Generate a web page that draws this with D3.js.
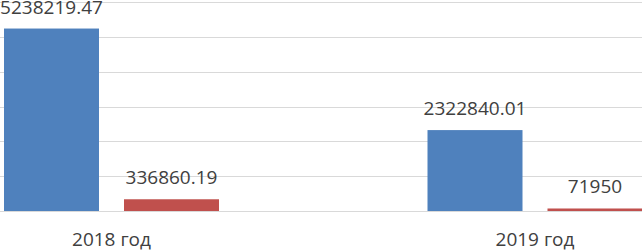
<!DOCTYPE html>
<html>
<head>
<meta charset="utf-8">
<script src="https://cdn.jsdelivr.net/npm/d3@7"></script>
<style>
  html, body { margin: 0; padding: 0; background: #fff; }
  svg { display: block; }
  text { font-family: "Open Sans", "Liberation Sans", sans-serif; fill: #404040; }
</style>
</head>
<body>
<div class="chart"></div>
<script>
'use strict';

// chart data
var categories = ['2018 год', '2019 год'];
var series = ['s1', 's2'];
var seriesColors = ['#4f81bd', '#c0504d'];
var values1 = [5238219.47, 2322840.01];
var values2 = [336860.19, 71950];
var labels1 = ['5238219.47', '2322840.01'];
var labels2 = ['336860.19', '71950'];
var yTicks = [0, 1000000, 2000000, 3000000, 4000000, 5000000, 6000000];

var width = 642, height = 250;

var svg = d3.select('.chart').append('svg')
  .attr('width', width)
  .attr('height', height);

// plot area is wider than the picture; it is cropped on both sides
var x0 = d3.scaleBand()
  .domain(categories)
  .range([-100.25, 746.75])
  .padding(0);

var x1 = d3.scaleBand()
  .domain(series)
  .range([104.25, 319.25])
  .paddingInner(25 / 120)
  .paddingOuter(0);

var y = d3.scaleLinear()
  .domain([0, 6000000])
  .range([211, 2]);

// gridlines
svg.append('g')
  .selectAll('line')
  .data(yTicks)
  .enter().append('line')
    .attr('x1', -100)
    .attr('x2', 760)
    .attr('y1', function(d) { return Math.round(y(d)) + 0.5; })
    .attr('y2', function(d) { return Math.round(y(d)) + 0.5; })
    .style('stroke', '#d9d9d9')
    .style('stroke-width', 1);

var rows = categories.map(function(c, i) {
  return [
    {cat: c, key: 's1', value: values1[i], label: labels1[i]},
    {cat: c, key: 's2', value: values2[i], label: labels2[i]}
  ];
});

var groups = svg.append('g')
  .selectAll('g')
  .data(rows)
  .enter().append('g')
    .attr('transform', function(d, i) { return 'translate(' + x0(categories[i]) + ',0)'; });

groups.selectAll('rect')
  .data(function(d) { return d; })
  .enter().append('rect')
    .attr('x', function(d) { return x1(d.key); })
    .attr('y', function(d) { return y(d.value); })
    .attr('width', x1.bandwidth())
    .attr('height', function(d) { return y(0) - y(d.value); })
    .style('fill', function(d) { return seriesColors[series.indexOf(d.key)]; });

// value labels (the top one is cut by the top edge, as in the original)
groups.selectAll('text')
  .data(function(d) { return d; })
  .enter().append('text')
    .attr('x', function(d) { return x1(d.key) + x1.bandwidth() / 2; })
    .attr('y', function(d) { return y(d.value) - 15; })
    .attr('text-anchor', 'middle')
    .style('font-size', '19px')
    .text(function(d) { return d.label; });

// category axis labels
svg.append('g')
  .selectAll('text')
  .data(categories)
  .enter().append('text')
    .attr('x', function(d) { return x0(d) + x0.bandwidth() / 2; })
    .attr('y', 245.5)
    .attr('text-anchor', 'middle')
    .style('font-size', '19px')
    .text(function(d) { return d; });
</script>
</body>
</html>
